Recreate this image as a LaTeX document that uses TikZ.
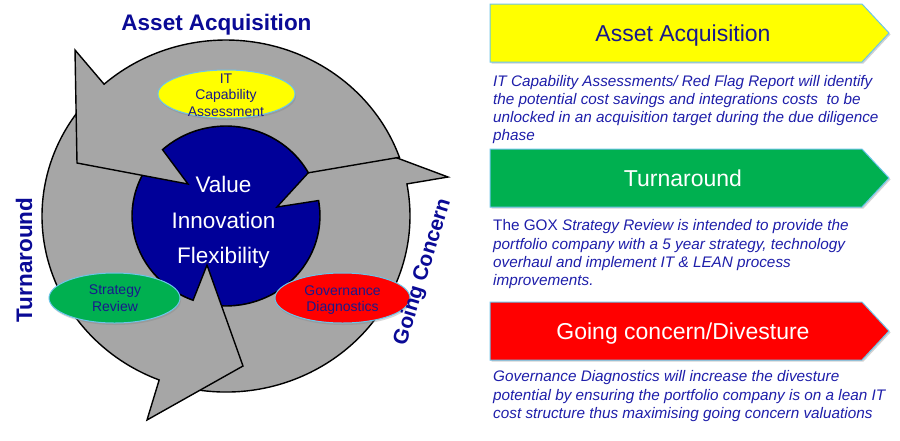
\documentclass[tikz,border=0pt]{standalone}
\usepackage{fontspec}
\setmainfont{Liberation Sans}
\usetikzlibrary{calc,shadows,shapes.geometric}
\definecolor{ringgrey}{HTML}{A6A6A6}
\definecolor{coreblue}{HTML}{000099}
\definecolor{labnavy}{RGB}{10,10,150}
\definecolor{desc}{RGB}{30,30,170}
\definecolor{ovalnavy}{RGB}{25,25,140}
\definecolor{edgeblue}{HTML}{6CC5EA}
\definecolor{pgreen}{HTML}{00B050}
\definecolor{pyellow}{HTML}{FFFF00}
\definecolor{pred}{HTML}{FF0000}
\begin{document}
\begin{tikzpicture}[x=1pt,y=1pt,
  ringpart/.style={fill=ringgrey, draw=black, line width=1.4pt, line join=miter},
  oval/.style={ellipse, draw=edgeblue, line width=1pt, inner sep=0pt,
    drop shadow={shadow xshift=1pt, shadow yshift=-2pt, opacity=0.3}},
  ovaltext/.style={align=center, text=ovalnavy, font=\fontsize{14}{16.7}\selectfont, inner sep=0pt},
  coretext/.style={align=center, text=white, font=\fontsize{22.5}{35.3}\selectfont, inner sep=0pt},
  lab/.style={inner sep=0pt, text=labnavy, font=\bfseries\fontsize{22.5}{27}\selectfont},
  panel/.style={draw=edgeblue, line width=1pt,
    drop shadow={shadow xshift=1.5pt, shadow yshift=-1.5pt, opacity=0.35}},
  headtext/.style={anchor=base, inner sep=0pt, font=\fontsize{23}{27}\selectfont},
  desctext/.style={anchor=base west, inner sep=0pt, text=desc, font=\fontsize{15.3}{18.3}\selectfont\itshape}
]
\useasboundingbox (0,0) rectangle (900,-440);
\fill[white] (0,0) rectangle (900,-440);

\coordinate (C) at (226,-216);

% blue core
\draw[fill=coreblue, line width=1.4pt] (C) ellipse [x radius=94, y radius=90];

% right arrow (Going Concern)
\draw[ringpart] ($(C)+(255:94 and 90)$) -- ($(C)+(255:184 and 176)$)
  arc[start angle=255, end angle=370.5, x radius=184, y radius=176]
  -- (448,-177) -- (341,-137) -- (277,-207)
  -- ($(C)+(369.9:94 and 90)$)
  arc[start angle=369.9, end angle=255, x radius=94, y radius=90] -- cycle;

% left arrow (Turnaround)
\draw[ringpart] ($(C)+(140:94 and 90)$) -- ($(C)+(140:184 and 176)$)
  arc[start angle=140, end angle=248.7, x radius=184, y radius=176]
  -- (147,-420) -- (243,-366) -- (207,-265)
  -- ($(C)+(249.5:94 and 90)$)
  arc[start angle=249.5, end angle=140, x radius=94, y radius=90] -- cycle;

% top arrow (Asset Acquisition)
\draw[ringpart] ($(C)+(28.7:94 and 90)$) -- ($(C)+(19.5:184 and 176)$)
  arc[start angle=19.5, end angle=131.5, x radius=184, y radius=176]
  -- (75,-50) -- (77,-163) -- (188,-184)
  -- ($(C)+(132.5:94 and 90)$)
  arc[start angle=132.5, end angle=28.7, x radius=94, y radius=90] -- cycle;

% core text
\node[coretext] (core) at (223.5,-222.3) {Value\\Innovation\\Flexibility};

% ovals
\node[oval, fill=pyellow, minimum width=137pt, minimum height=48pt] (itcap) at (226.5,-94) {};
\node[ovaltext] (itcaptext) at (226,-95) {IT\\Capability\\Assessment};
\node[oval, fill=pgreen, minimum width=131pt, minimum height=50pt] (strat) at (114.5,-298) {};
\node[ovaltext] (strattext) at (115,-298.3) {Strategy\\Review};
\node[oval, fill=pred, minimum width=135pt, minimum height=50pt] (gov) at (342.5,-298) {};
\node[ovaltext] (govtext) at (342.5,-300) {Governance\\Diagnostics};

% ring labels
\node[lab, anchor=base] (lblAA) at (216.5,-30.7) {Asset Acquisition};
\node[lab, rotate=90, anchor=base] (lblT) at (32,-260) {Turnaround};
\node[lab, rotate=73, anchor=center, font=\bfseries\fontsize{21}{25}\selectfont] (lblGC) at (423,-272) {Going Concern};

% right panels
\path[panel, fill=pyellow] (490,-4) -- (862,-4) -- (889,-33) -- (862,-62) -- (490,-62) -- cycle;
\node[headtext, text=ovalnavy] (h1) at (683,-41.7) {Asset Acquisition};
\path[panel, fill=pgreen] (490,-149) -- (862,-149) -- (889,-178) -- (862,-207) -- (490,-207) -- cycle;
\node[headtext, text=white] (h2) at (683,-186.7) {Turnaround};
\path[panel, fill=pred] (490,-302) -- (862,-302) -- (889,-331) -- (862,-360) -- (490,-360) -- cycle;
\node[headtext, text=white] (h3) at (683,-339.3) {Going concern/Divesture};

% descriptions
\node[desctext] (d1a) at (493,-86) {IT Capability Assessments/ Red Flag Report will identify};
\node[desctext] (d1b) at (493,-104.2) {the potential cost savings and integrations costs \ to be};
\node[desctext] (d1c) at (493,-122.4) {unlocked in an acquisition target during the due diligence};
\node[desctext] (d1d) at (493,-140.6) {phase};

\node[desctext] (d2a) at (493,-230.7) {\upshape The GOX \itshape Strategy Review is intended to provide the};
\node[desctext] (d2b) at (493,-249) {portfolio company with a 5 year strategy, technology};
\node[desctext] (d2c) at (493,-267.3) {overhaul and implement IT \& LEAN process};
\node[desctext] (d2d) at (493,-285.6) {improvements.};

\node[desctext] (d3a) at (493,-381.7) {Governance Diagnostics will increase the divesture};
\node[desctext] (d3b) at (493,-400) {potential by ensuring the portfolio company is on a lean IT};
\node[desctext] (d3c) at (493,-418.3) {cost structure thus maximising going concern valuations};
\end{tikzpicture}
\end{document}
